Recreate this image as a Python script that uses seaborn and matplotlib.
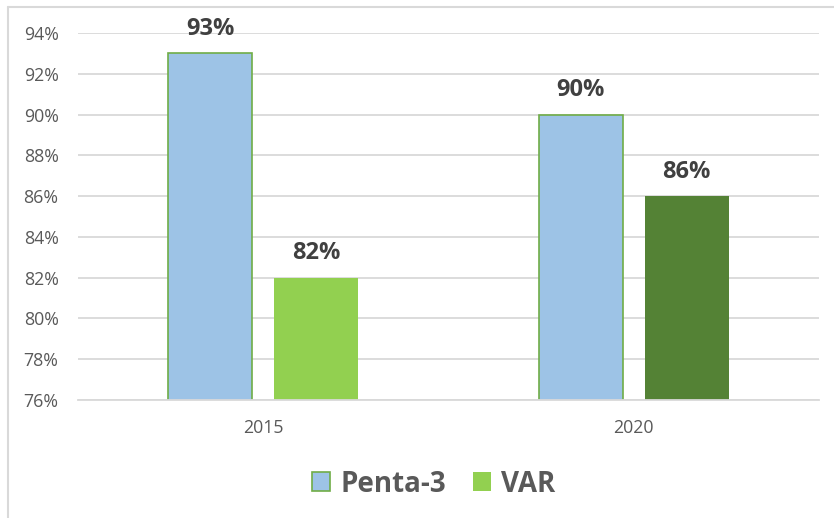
import matplotlib
matplotlib.use("Agg")
import matplotlib.pyplot as plt
import pandas as pd
import seaborn as sns
from matplotlib.lines import Line2D
from matplotlib.patches import Patch

years = ["2015", "2020"]
series = ["Penta-3", "VAR"]
penta3 = [93, 90]
var = [82, 86]
yticks = [76, 78, 80, 82, 84, 86, 88, 90, 92, 94]

blue = "#9DC3E6"
edge_green = "#70AD47"
var_colors = ["#92D050", "#548235"]
grid_gray = "#D9D9D9"

df = pd.DataFrame({
    "year": years * 2,
    "series": [series[0]] * len(years) + [series[1]] * len(years),
    "value": penta3 + var,
})

sns.set_theme(style="white")
plt.rcParams["font.family"] = ["Open Sans", "DejaVu Sans"]

fig = plt.figure(figsize=(8.34, 5.18), dpi=100)
ax = fig.add_axes([78 / 834, 118 / 518, 741 / 834, 367 / 518])

sns.barplot(data=df, x="year", y="value", hue="series",
            palette=[blue, var_colors[0]], saturation=1, errorbar=None,
            width=0.572, gap=0.206, legend=False, ax=ax)

# recolour bars: penta-3 has green edge, VAR shade differs per year
for bar in ax.containers[0]:
    bar.set_facecolor(blue)
    bar.set_edgecolor(edge_green)
    bar.set_linewidth(1.2)
for bar, c in zip(ax.containers[1], var_colors):
    bar.set_facecolor(c)
    bar.set_edgecolor("none")

for cont in ax.containers:
    ax.bar_label(cont, labels=[f"{v:.0f}%" for v in cont.datavalues],
                 padding=9, fontsize=17, fontweight="bold", color="#404040")

ax.set_ylim(76, 94)
ax.set_yticks(yticks)
ax.set_yticklabels([f"{t}%" for t in yticks])
ax.set_xlabel("")
ax.set_ylabel("")
ax.yaxis.grid(True, color=grid_gray, lw=1.3)
ax.set_axisbelow(True)
for s in ["top", "right", "left"]:
    ax.spines[s].set_visible(False)
ax.spines["bottom"].set_color(grid_gray)
ax.spines["bottom"].set_linewidth(1.3)
ax.tick_params(axis="y", length=0, pad=14, labelsize=12.8, labelcolor="#595959")
ax.tick_params(axis="x", length=0, pad=14, labelsize=12.8, labelcolor="#595959")

handles = [
    Patch(facecolor=blue, edgecolor=edge_green, linewidth=1.2, label=series[0]),
    Patch(facecolor=var_colors[0], edgecolor="none", label=series[1]),
]
leg = fig.legend(handles=handles, loc="center", bbox_to_anchor=(0.52, 34 / 518),
                 ncol=2, frameon=False, handlelength=0.65, handleheight=0.65,
                 handletextpad=0.36, columnspacing=0.95,
                 prop={"size": 20, "weight": "bold"})
for t in leg.get_texts():
    t.set_color("#595959")

# chart frame (only top and left edges are visible in the crop)
fig.add_artist(Line2D([8 / 834, 8 / 834], [0, 1 - 7 / 518],
                      transform=fig.transFigure, color=grid_gray, lw=1.5))
fig.add_artist(Line2D([8 / 834, 1], [1 - 7 / 518, 1 - 7 / 518],
                      transform=fig.transFigure, color=grid_gray, lw=1.5))

fig.savefig("out.png", dpi=100)
